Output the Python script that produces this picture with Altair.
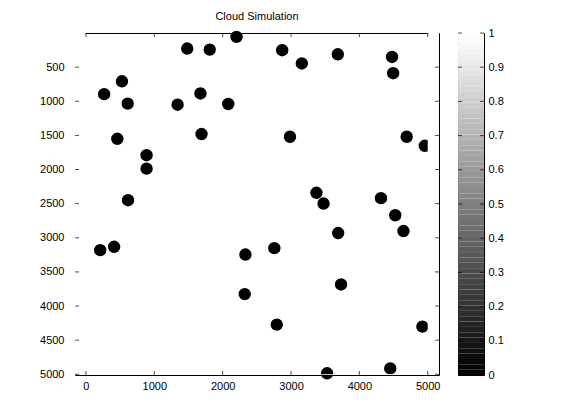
import altair as alt
import pandas as pd

# ---- data ----
X_POS = [1482, 1811, 2203, 2871, 3158, 3685, 4478, 4494, 527, 266, 611, 1341, 1675, 2082,
         459, 1691, 2985, 4692, 887, 887, 4958, 616, 209, 412, 2333, 2756, 3372, 3476,
         3690, 4316, 4525, 4645, 2323, 3732, 2792, 4922, 3528, 4452]
Y_POS = [228, 243, 57, 252, 446, 312, 351, 589, 708, 896, 1035, 1050, 886, 1040,
         1550, 1480, 1520, 1520, 1790, 1987, 1652, 2449, 3181, 3132, 3245, 3152, 2341, 2498,
         2931, 2419, 2670, 2901, 3825, 3684, 4272, 4301, 4985, 4913]
X_TICKS = [0, 1000, 2000, 3000, 4000, 5000]
Y_TICKS = [500, 1000, 1500, 2000, 2500, 3000, 3500, 4000, 4500, 5000]
CBAR_TICKS = [0, 0.1, 0.2, 0.3, 0.4, 0.5, 0.6, 0.7, 0.8, 0.9, 1]
X_DOMAIN = [-160, 5165]
Y_DOMAIN = [0, 5010]
IMG_EXTENT = [0, 5000]
CBAR_DOMAIN = [0, 1]
N_LEVELS = 64
TITLE = "Cloud Simulation"

FONT = "Liberation Sans Narrow, Liberation Sans, Arial"
FS = 11

xs = alt.Scale(domain=X_DOMAIN, nice=False, zero=False)
ys = alt.Scale(domain=Y_DOMAIN, nice=False, zero=False, reverse=True)

x_axis = alt.Axis(values=X_TICKS, format="d", ticks=False, tickSize=0, domain=False,
                  grid=False, labelPadding=5, labelFlush=False, labelOverlap=False)
y_axis = alt.Axis(values=Y_TICKS, format="d", ticks=False, tickSize=0, domain=False,
                  grid=False, labelPadding=11, labelFlush=False, labelOverlap=False)


def X(f):
    return alt.X(f, type="quantitative", scale=xs, axis=x_axis, title=None)


def Y(f):
    return alt.Y(f, type="quantitative", scale=ys, axis=y_axis, title=None)


dots = pd.DataFrame({"x": X_POS, "y": Y_POS})
circles = alt.Chart(dots).mark_circle(size=154, color="black", opacity=1).encode(
    x=X("x"), y=Y("y"))

# white margins outside the image extent (image covers 0..5000 only)
masks_df = pd.DataFrame({
    "x0": [IMG_EXTENT[1], X_DOMAIN[0], X_DOMAIN[0]],
    "x1": [X_DOMAIN[1], X_DOMAIN[1], IMG_EXTENT[0]],
    "y0": [Y_DOMAIN[0], IMG_EXTENT[1], Y_DOMAIN[0]],
    "y1": [Y_DOMAIN[1], Y_DOMAIN[1], Y_DOMAIN[1]],
})
masks = alt.Chart(masks_df).mark_rect(color="white").encode(
    x=X("x0"), x2="x1", y=Y("y0"), y2="y1")

bt = pd.DataFrame({"x": X_TICKS, "y": [Y_DOMAIN[1]] * len(X_TICKS)})
tt = pd.DataFrame({"x": X_TICKS, "y": [Y_DOMAIN[0]] * len(X_TICKS)})
lt = pd.DataFrame({"x": [X_DOMAIN[0]] * len(Y_TICKS), "y": Y_TICKS})
rt = pd.DataFrame({"x": [X_DOMAIN[1]] * len(Y_TICKS), "y": Y_TICKS})

tick_b = alt.Chart(bt).mark_tick(orient="vertical", size=4, thickness=1, color="black",
                                  yOffset=-2).encode(x=X("x"), y=Y("y"))
tick_t = alt.Chart(tt).mark_tick(orient="vertical", size=4, thickness=1, color="black",
                                  yOffset=2).encode(x=X("x"), y=Y("y"))
tick_l = alt.Chart(lt).mark_tick(orient="horizontal", size=4, thickness=1, color="black",
                                  xOffset=2).encode(x=X("x"), y=Y("y"))
tick_r = alt.Chart(rt).mark_tick(orient="horizontal", size=4, thickness=1, color="black",
                                  xOffset=-2).encode(x=X("x"), y=Y("y"))

main = alt.layer(circles, masks, tick_b, tick_t, tick_l, tick_r).properties(
    width=364, height=342,
    title=alt.TitleParams(TITLE, font=FONT, fontSize=FS, fontWeight="normal",
                          color="black", offset=9, anchor="middle"))

# ---- colorbar (MATLAB gray colormap, 64 levels) ----
cb = pd.DataFrame({
    "lo": [i / N_LEVELS for i in range(N_LEVELS)],
    "hi": [(i + 1) / N_LEVELS for i in range(N_LEVELS)],
    "v": [i / (N_LEVELS - 1) for i in range(N_LEVELS)],
    "x0": [CBAR_DOMAIN[0]] * N_LEVELS,
    "x1": [CBAR_DOMAIN[1]] * N_LEVELS,
})
cxs = alt.Scale(domain=CBAR_DOMAIN, nice=False, zero=False)
cys = alt.Scale(domain=CBAR_DOMAIN, nice=False, zero=False)
c_axis = alt.Axis(values=CBAR_TICKS, format="~g", orient="right", ticks=False, tickSize=0,
                  domain=False, grid=False, labelPadding=4, labelFlush=False,
                  labelOverlap=False)


def CX(f):
    return alt.X(f, type="quantitative", scale=cxs, axis=None)


def CY(f):
    return alt.Y(f, type="quantitative", scale=cys, axis=c_axis, title=None)


cbar_rect = alt.Chart(cb).mark_rect(strokeWidth=0).encode(
    x=CX("x0"), x2="x1", y=CY("lo"), y2="hi",
    color=alt.Color("v:Q", scale=alt.Scale(domain=CBAR_DOMAIN, range=["black", "white"],
                                           interpolate="rgb"), legend=None))
cl = pd.DataFrame({"x": [CBAR_DOMAIN[0]] * len(CBAR_TICKS), "y": CBAR_TICKS})
cr = pd.DataFrame({"x": [CBAR_DOMAIN[1]] * len(CBAR_TICKS), "y": CBAR_TICKS})
ctick_l = alt.Chart(cl).mark_tick(orient="horizontal", size=4, thickness=1, color="black",
                                   xOffset=2).encode(x=CX("x"), y=CY("y"))
ctick_r = alt.Chart(cr).mark_tick(orient="horizontal", size=4, thickness=1, color="black",
                                   xOffset=-2).encode(x=CX("x"), y=CY("y"))
cbar = alt.layer(cbar_rect, ctick_l, ctick_r).properties(width=26, height=342)

chart = alt.hconcat(main, cbar, spacing=19, bounds="flush").properties(
    padding={"left": 31, "top": 2, "right": 5, "bottom": 5},
    background="white",
).configure_view(stroke="black", strokeWidth=1).configure_axis(
    labelFont=FONT, labelFontSize=FS, labelColor="black")

chart.save("out.html", embed_options={"renderer": "svg", "actions": False})
